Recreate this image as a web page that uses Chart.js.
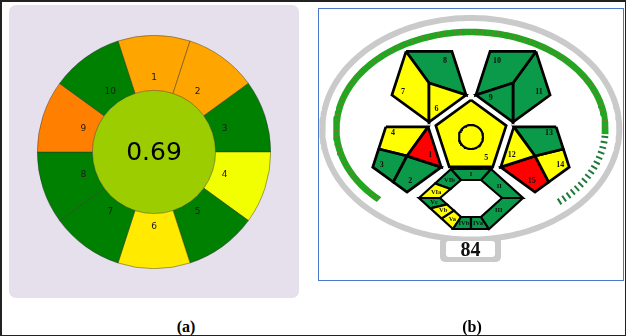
<!DOCTYPE html>
<html lang="en">
<head>
<meta charset="UTF-8">
<title>Greenness pictograms</title>
<script src="https://cdn.jsdelivr.net/npm/chart.js"></script>
<style>
    * { margin: 0; padding: 0; box-sizing: border-box; }
    body { width: 626px; height: 336px; background: #fff; position: relative; overflow: hidden; }
    .frame { position: absolute; left: 0; top: 0; width: 626px; height: 336px; border: 1px solid #222; border-top-width: 2px; border-left-width: 2px; z-index: 5; }
    .panel-a { position: absolute; left: 9px; top: 5px; width: 290px; height: 293px; background: #e6e0ec; border-radius: 7px; }
    .panel-b { position: absolute; left: 318px; top: 8px; width: 306px; height: 273px; border: 1.5px solid #4a78cc; }
    #agreeChart { position: absolute; left: 37px; top: 35px; }
    #gapiChart { position: absolute; left: 315px; top: 0; }
    .caption { position: absolute; top: 319px; width: 40px; text-align: center; font: bold 16px 'Liberation Serif', serif; line-height: 16px; color: #000; }
</style>
</head>
<body>
    <div class="panel-a"></div>
    <div class="panel-b"></div>
    <canvas id="agreeChart" width="234" height="234"></canvas>
    <canvas id="gapiChart" width="311" height="336"></canvas>
    <div class="caption" style="left:166px">(a)</div>
    <div class="caption" style="left:452px">(b)</div>
    <div class="frame"></div>

<script>
// ---------- (a) ring pictogram ----------
const agreeCriteria = ['1', '2', '3', '4', '5', '6', '7', '8', '9', '10'];
const agreeWeights = [1, 1, 1, 1, 1, 1, 1, 1, 1, 1];
const agreeLevels = ['orange', 'orange', 'green', 'lemon', 'green', 'yellow', 'green', 'green', 'darkorange', 'green'];
const agreeScore = 0.69;

// ---------- (b) pentagon pictogram ----------
const gapiFields = ['1', '2', '3', '4', '5', '6', '7', '8', '9', '10', '11', '12', '13', '14', '15'];
const gapiLevels = ['red', 'green', 'green', 'yellow', 'yellow', 'yellow', 'yellow', 'green', 'green', 'green', 'green', 'yellow', 'green', 'yellow', 'red'];
const hexFields = ['I', 'II', 'III', 'IVa', 'IVb', 'Va', 'Vb', 'Vc', 'VIa', 'VIb'];
const hexLevels = ['green', 'green', 'green', 'green', 'green', 'yellow', 'yellow', 'green', 'yellow', 'green'];
const totalScore = 84;
const scoreMax = 100;

const agreePalette = { green: '#008000', lemon: '#f2ff00', yellow: '#ffea00', orange: '#ffa500', darkorange: '#ff8000' };
const agreeCenterColor = '#9bcd00';
const gapiPalette = { green: '#0b9a49', yellow: '#ffff00', red: '#ff0000' };

const agreeLabels = {
    id: 'agreeLabels',
    afterDatasetsDraw(chart) {
        const ctx = chart.ctx;
        const arcs = chart.getDatasetMeta(0).data;
        ctx.save();
        ctx.textAlign = 'center';
        ctx.textBaseline = 'middle';
        ctx.fillStyle = '#1a1a1a';
        ctx.font = '9px "DejaVu Sans"';
        arcs.forEach((arc, i) => {
            const a = arc.getProps(['x', 'y', 'startAngle', 'endAngle', 'innerRadius', 'outerRadius'], true);
            const mid = (a.startAngle + a.endAngle) / 2;
            const r = a.innerRadius + (a.outerRadius - a.innerRadius) * 0.23;
            ctx.fillText(agreeCriteria[i], a.x + Math.cos(mid) * r, a.y + Math.sin(mid) * r);
        });
        const c = chart.getDatasetMeta(1).data[0];
        ctx.fillStyle = '#000';
        ctx.font = '25px "DejaVu Sans"';
        ctx.fillText(agreeScore.toFixed(2), c.x, c.y + 1);
        ctx.restore();
    }
};

new Chart(document.getElementById('agreeChart'), {
    type: 'pie',
    data: {
        labels: agreeCriteria,
        datasets: [
            {
                data: agreeWeights,
                backgroundColor: agreeLevels.map(l => agreePalette[l]),
                borderColor: 'rgba(40,40,40,0.7)',
                borderWidth: 0.6,
                weight: 55
            },
            {
                data: [1],
                backgroundColor: agreeCenterColor,
                borderWidth: 0,
                weight: 61.5
            }
        ]
    },
    options: {
        responsive: false,
        animation: false,
        events: [],
        rotation: -18,
        layout: { padding: 0 },
        plugins: { legend: { display: false }, tooltip: { enabled: false } }
    },
    plugins: [agreeLabels]
});

// ---- geometry of the pictogram (image pixel units) ----
const AXIS = 471;
const P = (x, y) => ({ x, y });
const lerp = (a, b, f) => P(a.x + (b.x - a.x) * f, a.y + (b.y - a.y) * f);
const mir = p => P(2 * AXIS - p.x, p.y);
const mean = pts => P(pts.reduce((s, p) => s + p.x, 0) / pts.length, pts.reduce((s, p) => s + p.y, 0) / pts.length);
const cell = (pts, toward, f) => ({ pts, lab: toward ? lerp(mean(pts), toward, f) : mean(pts) });
const mirCell = (pts, toward, f) => cell(pts.map(mir), mir(toward), f);

function pentagon(cx, cy, r, pointUp) {
    const v = [];
    for (let k = 0; k < 5; k++) {
        const a = ((pointUp ? -90 : 90) + 72 * k) * Math.PI / 180;
        v.push(P(cx + r * Math.cos(a), cy + r * Math.sin(a)));
    }
    return v;
}

const geo = {};
// left pentagon (1-4) and its mirror (12-15)
const lC = P(407, 156);
const [lB, lL, lTL, lTR, lR] = pentagon(lC.x, lC.y, 36, false);
const lP1 = lerp(lTL, lL, 0.55), lP2 = lerp(lL, lB, 0.6);
geo['1'] = cell([lTR, lR, lC], lR, 0.3);
geo['2'] = cell([lC, lR, lB, lP2], lB, 0.35);
geo['3'] = cell([lP1, lC, lP2, lL], lL, 0.4);
geo['4'] = cell([lTL, lTR, lC, lP1], lTL, 0.5);
geo['12'] = mirCell(geo['1'].pts, lR, 0.3);
geo['15'] = mirCell(geo['2'].pts, lB, 0.35);
geo['14'] = mirCell(geo['3'].pts, lL, 0.4);
geo['13'] = mirCell(geo['4'].pts, lTL, 0.5);
// upper-left pentagon (6-8) and its mirror (9-11)
const uC = P(429, 83);
const [uB, uL, uTL, uTR, uR] = pentagon(uC.x, uC.y, 39, false);
geo['6'] = cell([uC, uR, uB], uB, 0.4);
geo['7'] = cell([uTL, uC, uB, uL], uL, 0.5);
geo['8'] = cell([uTL, uTR, uR, uC], uTR, 0.5);
geo['9'] = mirCell(geo['6'].pts, uR, 0.4);
geo['10'] = mirCell(geo['8'].pts, uTR, 0.5);
geo['11'] = mirCell(geo['7'].pts, uL, 0.5);
// centre pentagon (5)
const cC = P(AXIS, 137);
const cV = pentagon(cC.x, cC.y, 37, true);
geo['5'] = { pts: cV, lab: lerp(cC, cV[2], 0.7) };

// bottom hexagon (I-VI)
const hexRing = (top, mid, bot, hw) => [
    P(AXIS - hw[0], top), P(AXIS + hw[0], top), P(AXIS + hw[1], mid),
    P(AXIS + hw[2], bot), P(AXIS - hw[2], bot), P(AXIS - hw[1], mid)
];
const [oTL, oTR, oR, oBR, oBL, oL] = hexRing(169, 198, 229, [20, 52, 18]);
const [iTL, iTR, iR, iBR, iBL, iL] = hexRing(180, 198, 217, [10, 31, 10]);
const band = (o0, o1, i0, i1, f0, f1) => [lerp(o0, o1, f0), lerp(o0, o1, f1), lerp(i0, i1, f1), lerp(i0, i1, f0)];
const hexGeo = {
    'I': cell([oTL, oTR, iTR, iTL]),
    'II': cell([oTR, oR, iR, iTR]),
    'III': cell([oR, oBR, iBR, iR]),
    'IVa': cell(band(oBR, oBL, iBR, iBL, 0, 0.5)),
    'IVb': cell(band(oBR, oBL, iBR, iBL, 0.5, 1)),
    'Va': cell(band(oBL, oL, iBL, iL, 0, 1 / 3)),
    'Vb': cell(band(oBL, oL, iBL, iL, 1 / 3, 2 / 3)),
    'Vc': cell(band(oBL, oL, iBL, iL, 2 / 3, 1)),
    'VIa': cell(band(oL, oTL, iL, iTL, 0, 0.5)),
    'VIb': cell(band(oL, oTL, iL, iTL, 0.5, 1))
};

// outer ellipse and score arc
const EC = P(470.8, 128.8);
const ring = { rx: 148.5, ry: 110.8, half: 3 };
const arc = { rx: 134.5, ry: 96.8, half: 3.3, t0: 133, t1: 410 };
const ellPt = (rx, ry, tDeg) => {
    const t = tDeg * Math.PI / 180;
    return P(EC.x + rx * Math.cos(t), EC.y + ry * Math.sin(t));
};
// closed strip between two concentric ellipses, from angle a to angle b
function strip(rx, ry, half, a, b, n) {
    const outer = [], inner = [];
    for (let k = 0; k <= n; k++) {
        const t = a + (b - a) * k / n;
        outer.push(ellPt(rx + half, ry + half, t));
        inner.push(ellPt(rx - half, ry - half, t));
    }
    return [...outer, ...inner.reverse(), outer[0]];
}
// parameter at equal arc-length fractions along the score arc
const arcLen = [0], arcT = [arc.t0];
for (let k = 1; k <= 2000; k++) {
    const t = arc.t0 + (arc.t1 - arc.t0) * k / 2000;
    const a = ellPt(arc.rx, arc.ry, arcT[k - 1]), b = ellPt(arc.rx, arc.ry, t);
    arcT.push(t);
    arcLen.push(arcLen[k - 1] + Math.hypot(b.x - a.x, b.y - a.y));
}
function tAt(frac) {
    const s = frac * arcLen[arcLen.length - 1];
    let k = 1;
    while (k < arcLen.length - 1 && arcLen[k] < s) k++;
    const f = (s - arcLen[k - 1]) / (arcLen[k] - arcLen[k - 1]);
    return arcT[k - 1] + (arcT[k] - arcT[k - 1]) * f;
}
const normalDeg = t => {
    const r = t * Math.PI / 180;
    return Math.atan2(Math.sin(r) / arc.ry, Math.cos(r) / arc.rx) * 180 / Math.PI;
};

const doneTicks = [], doneRot = [], restTicks = [], restRot = [];
for (let i = 0; i < scoreMax; i++) {
    const t = tAt((i + 0.5) / scoreMax);
    (i < totalScore ? doneTicks : restTicks).push(ellPt(arc.rx, arc.ry, t));
    (i < totalScore ? doneRot : restRot).push(normalDeg(t));
}
const tFill = tAt(totalScore / scoreMax);
const bandPts = strip(arc.rx, arc.ry, arc.half, arc.t0, tFill, 160);
const ringPts = strip(ring.rx, ring.ry, ring.half, 0, 360, 240);
const circlePts = [];
for (let k = 0; k <= 72; k++) circlePts.push(P(cC.x + 12 * Math.cos(k * Math.PI / 36), cC.y + 12 * Math.sin(k * Math.PI / 36)));

const cellSet = (g, color, width) => ({
    data: [...g.pts, g.pts[0]],
    fill: 'shape',
    backgroundColor: color,
    borderColor: '#000',
    borderWidth: width,
    borderJoinStyle: 'miter',
    pointRadius: 0
});
const areaSet = (pts, color) => ({
    data: pts,
    fill: 'shape',
    backgroundColor: color,
    borderColor: 'rgba(0,0,0,0)',
    borderWidth: 0.1,
    pointRadius: 0
});

const gapiDatasets = [
    { data: doneTicks, showLine: false, pointStyle: 'line', pointRadius: 2.4, pointBorderWidth: 0.8, pointBorderColor: '#a0664a', pointRotation: doneRot },
    { data: restTicks, showLine: false, pointStyle: 'line', pointRadius: 3.4, pointBorderWidth: 2, pointBorderColor: '#1f7a3a', pointRotation: restRot },
    { data: circlePts, borderColor: '#000', borderWidth: 2.2, pointRadius: 0 },
    ...gapiFields.map((f, i) => cellSet(geo[f], gapiPalette[gapiLevels[i]], 2.7)),
    ...hexFields.map((f, i) => cellSet(hexGeo[f], gapiPalette[hexLevels[i]], 2.2)),
    areaSet(bandPts, '#1ea81e'),
    areaSet(ringPts, '#cacaca')
];

function roundRect(ctx, x, y, w, h, r) {
    ctx.beginPath();
    ctx.moveTo(x + r, y);
    ctx.arcTo(x + w, y, x + w, y + h, r);
    ctx.arcTo(x + w, y + h, x, y + h, r);
    ctx.arcTo(x, y + h, x, y, r);
    ctx.arcTo(x, y, x + w, y, r);
    ctx.closePath();
}

const gapiText = {
    id: 'gapiText',
    afterDatasetsDraw(chart) {
        const { ctx, scales: { x, y } } = chart;
        const px = p => [x.getPixelForValue(p.x), y.getPixelForValue(p.y)];
        ctx.save();
        ctx.textAlign = 'center';
        ctx.textBaseline = 'middle';
        ctx.fillStyle = '#111';
        ctx.font = 'bold 8px "Liberation Serif"';
        gapiFields.forEach(f => ctx.fillText(f, ...px(geo[f].lab)));
        ctx.font = 'bold 6.5px "Liberation Serif"';
        hexFields.forEach(f => ctx.fillText(f, ...px(hexGeo[f].lab)));

        // score box under the ring
        const [bx0, by0] = px(P(AXIS - 31, 237));
        const [bx1, by1] = px(P(AXIS + 30, 262));
        ctx.fillStyle = '#cacaca';
        roundRect(ctx, bx0, by0, bx1 - bx0, by1 - by0, 5);
        ctx.fill();
        const [ix0, iy0] = px(P(AXIS - 25, 241));
        const [ix1, iy1] = px(P(AXIS + 24, 257));
        ctx.fillStyle = '#fff';
        roundRect(ctx, ix0, iy0, ix1 - ix0, iy1 - iy0, 3);
        ctx.fill();
        ctx.fillStyle = '#111';
        ctx.font = 'bold 20px "Liberation Serif"';
        ctx.fillText(String(totalScore), ...px(P(AXIS - 0.5, 250.5)));
        ctx.restore();
    }
};

new Chart(document.getElementById('gapiChart'), {
    type: 'line',
    data: { datasets: gapiDatasets },
    options: {
        responsive: false,
        animation: false,
        events: [],
        layout: { padding: 0, autoPadding: false },
        elements: { line: { tension: 0 }, point: { radius: 0 } },
        scales: {
            x: { type: 'linear', min: 315, max: 626, display: false },
            y: { type: 'linear', min: 0, max: 336, reverse: true, display: false }
        },
        plugins: { legend: { display: false }, tooltip: { enabled: false } }
    },
    plugins: [gapiText]
});
</script>
</body>
</html>
